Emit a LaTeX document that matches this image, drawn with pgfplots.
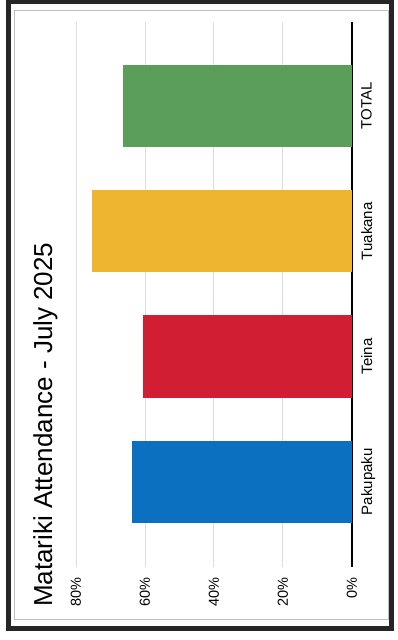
\documentclass[border=0pt]{standalone}
\usepackage{pgfplots}
\pgfplotsset{compat=1.18}
\usepackage{fontspec}
\setmainfont{Liberation Sans}
\definecolor{cgreen}{RGB}{90,158,90}
\definecolor{cyellow}{RGB}{238,182,48}
\definecolor{cred}{RGB}{210,30,50}
\definecolor{cblue}{RGB}{12,112,192}
\begin{document}
\begin{tikzpicture}
\fill[white] (0,0) rectangle (398pt,640pt);
\begin{axis}[
  at={(214pt,345.5pt)}, anchor=center,
  scale only axis, width=276pt, height=545pt,
  xbar, bar width=0.655, bar shift=0pt,
  xmin=0, xmax=80, x dir=reverse,
  ymin=-0.68, ymax=3.67,
  ytick={0,1,2,3}, yticklabels={Pakupaku,Teina,Tuakana,TOTAL},
  yticklabel pos=right,
  xtick={20,40,60,80}, xticklabels={20\%,40\%,60\%,80\%},
  extra x ticks={0}, extra x tick labels={0\%},
  extra x tick style={xmajorgrids=true, grid style={black, line width=1.3pt}},
  xmajorgrids=true, ymajorgrids=false,
  grid style={black!13, line width=1pt},
  axis line style={draw=none},
  major tick length=0pt, tick style={draw=none},
  xticklabel style={rotate=90, anchor=east, inner sep=0pt, font=\fontsize{14.5}{17}\selectfont},
  xticklabel shift=10pt,
  yticklabel style={rotate=90, anchor=north, inner sep=0pt, font=\fontsize{15}{17}\selectfont},
  yticklabel shift=9pt,
]
\addplot[fill=cblue, draw=none, bar shift=0pt] coordinates {(63.9,0)};
\addplot[fill=cred, draw=none, bar shift=0pt] coordinates {(60.6,1)};
\addplot[fill=cyellow, draw=none, bar shift=0pt] coordinates {(75.5,2)};
\addplot[fill=cgreen, draw=none, bar shift=0pt] coordinates {(66.5,3)};
\end{axis}
\node[rotate=90, anchor=base west, inner sep=0pt, font=\fontsize{26}{30}\selectfont] at (52pt,33pt) {Matariki Attendance - July 2025};
\draw[black!25, line width=0.6pt] (14pt,21pt) rectangle (388pt,630pt);
\draw[black!85, line width=5pt] (8pt,11pt) rectangle (391.5pt,638pt);
\pgfresetboundingbox
\path (0,0) rectangle (398pt,640pt);
\end{tikzpicture}
\end{document}
